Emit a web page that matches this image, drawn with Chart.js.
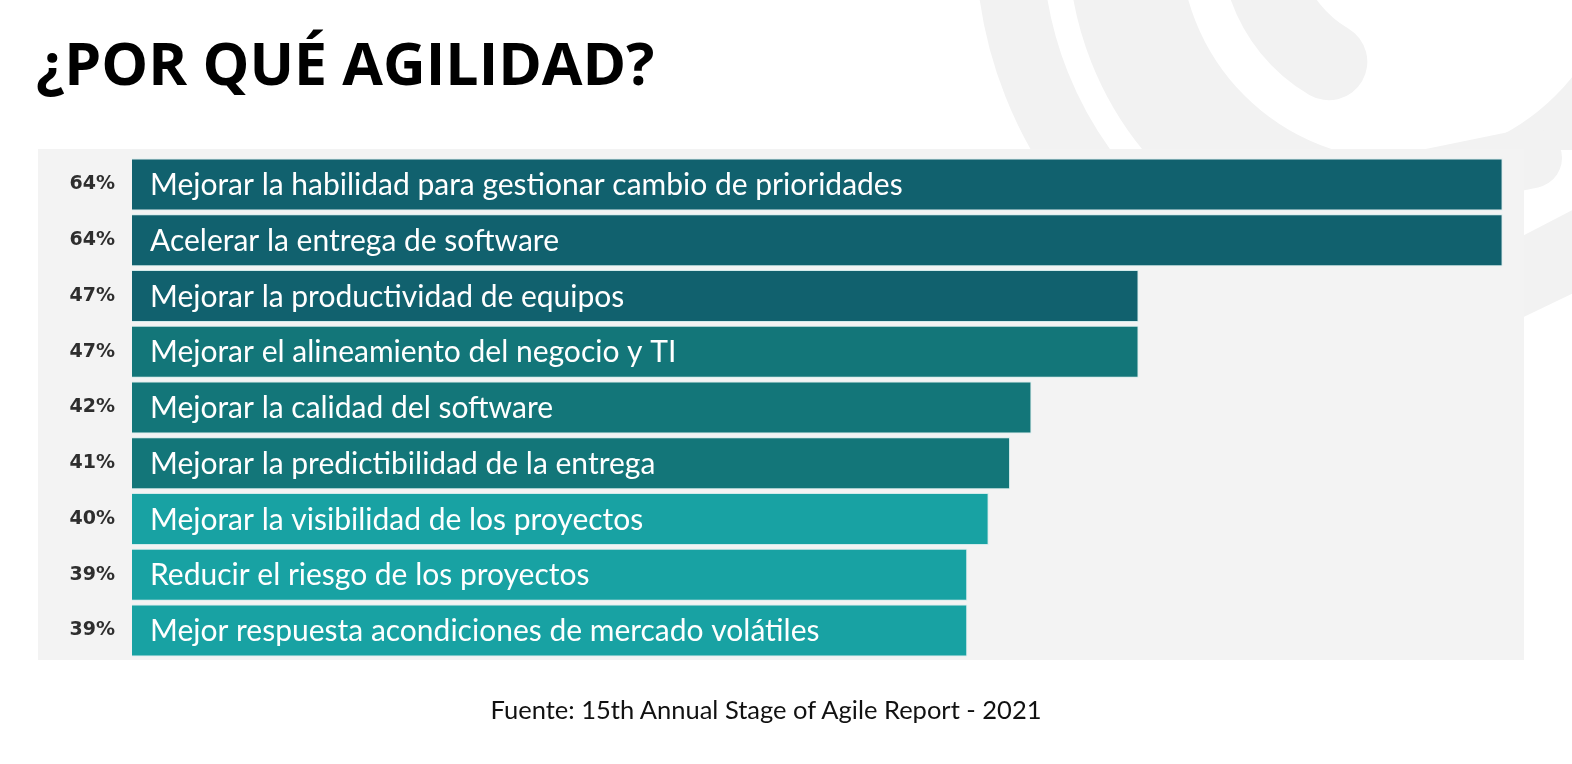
<!DOCTYPE html>
<html>
<head>
<meta charset="utf-8">
<script src="https://cdn.jsdelivr.net/npm/chart.js@4.4.0/dist/chart.umd.min.js"></script>
<style>
  html, body { margin: 0; padding: 0; background: #fff; }
  #wrap { position: relative; width: 1572px; height: 764px; overflow: hidden; }
  #chart { position: absolute; left: 0; top: 0; }
  #title {
    position: absolute; left: 36px; top: 22px;
    font-family: "Open Sans", sans-serif; font-weight: 700; font-size: 59px;
    letter-spacing: 0px; color: #000; white-space: nowrap;
  }
  #source {
    position: absolute; left: 0; width: 1532px; top: 694px; text-align: center;
    font-family: Lato, sans-serif; font-size: 25.5px; color: #111; white-space: nowrap;
  }
</style>
</head>
<body>
<div id="wrap">
  <canvas id="chart" width="1572" height="764"></canvas>
  <div id="title">¿POR QUÉ AGILIDAD?</div>
  <div id="source">Fuente: 15th Annual Stage of Agile Report - 2021</div>
</div>
<script>
const categories = [
  "Mejorar la habilidad para gestionar cambio de prioridades",
  "Acelerar la entrega de software",
  "Mejorar la productividad de equipos",
  "Mejorar el alineamiento del negocio y TI",
  "Mejorar la calidad del software",
  "Mejorar la predictibilidad de la entrega",
  "Mejorar la visibilidad de los proyectos",
  "Reducir el riesgo de los proyectos",
  "Mejor respuesta acondiciones de mercado volátiles",
];
const values = [64, 64, 47, 47, 42, 41, 40, 39, 39];
const barColors = [
  "#11616e", "#11616e", "#11616e",
  "#137679", "#137679", "#137679",
  "#18a2a3", "#18a2a3", "#18a2a3",
];

// faint logo behind the panel + grey panel
const backdrop = {
  id: "backdrop",
  beforeDraw(chart) {
    const ctx = chart.ctx;
    ctx.save();
    ctx.strokeStyle = "#f2f2f2";
    ctx.fillStyle = "#f2f2f2";
    ctx.save();
    ctx.beginPath();
    ctx.rect(0, 0, 1572, 150);
    ctx.clip();
    ctx.lineWidth = 67;
    ctx.beginPath();
    ctx.arc(1400, -60, 391, 0, Math.PI * 2);
    ctx.stroke();
    ctx.lineWidth = 112;
    ctx.beginPath();
    ctx.arc(1400, -60, 276, 0, Math.PI * 2);
    ctx.stroke();
    ctx.restore();
    ctx.lineWidth = 77;
    ctx.lineCap = "round";
    ctx.beginPath();
    ctx.arc(1400, -60, 141, 2.1, 3.6);
    ctx.stroke();
    ctx.lineWidth = 60;
    ctx.beginPath();
    ctx.moveTo(1400, 185);
    ctx.lineTo(1532, 158);
    ctx.stroke();
    ctx.beginPath();
    ctx.moveTo(1480, 258);
    ctx.lineTo(1580, 206);
    ctx.lineTo(1580, 290);
    ctx.lineTo(1480, 338);
    ctx.closePath();
    ctx.fill();
    ctx.fillStyle = "#f3f3f3";
    ctx.fillRect(38, 149, 1486, 511);
    ctx.restore();
  },
};

// text written inside each bar
const barText = {
  id: "barText",
  afterDatasetsDraw(chart) {
    const ctx = chart.ctx;
    const meta = chart.getDatasetMeta(0);
    ctx.save();
    ctx.fillStyle = "#ffffff";
    ctx.font = "30px Lato, sans-serif";
    ctx.textBaseline = "middle";
    ctx.textAlign = "left";
    meta.data.forEach((bar, i) => {
      ctx.fillText(categories[i], bar.base + 18, bar.y + 1);
    });
    ctx.restore();
  },
};

new Chart(document.getElementById("chart"), {
  type: "bar",
  data: {
    labels: categories,
    datasets: [{
      data: values,
      backgroundColor: barColors,
      borderColor: "rgba(190, 230, 230, 0.6)",
      borderWidth: 1,
      barPercentage: 0.93,
      categoryPercentage: 1,
    }],
  },
  options: {
    indexAxis: "y",
    responsive: false,
    animation: false,
    layout: { padding: { left: 0, right: 48, top: 156.6, bottom: 105.6 } },
    scales: {
      x: { display: false, min: 0, max: 65 },
      y: {
        grid: { display: false },
        border: { display: false },
        afterFit: (scale) => { scale.width = 132; },
        ticks: {
          padding: 9,
          color: "#2e2e2e",
          font: { family: "DejaVu Sans", weight: "bold", size: 19 },
          callback: (value, index) => `${values[index]}%`,
        },
      },
    },
    plugins: {
      legend: { display: false },
      tooltip: { enabled: false },
    },
  },
  plugins: [backdrop, barText],
});
</script>
</body>
</html>
